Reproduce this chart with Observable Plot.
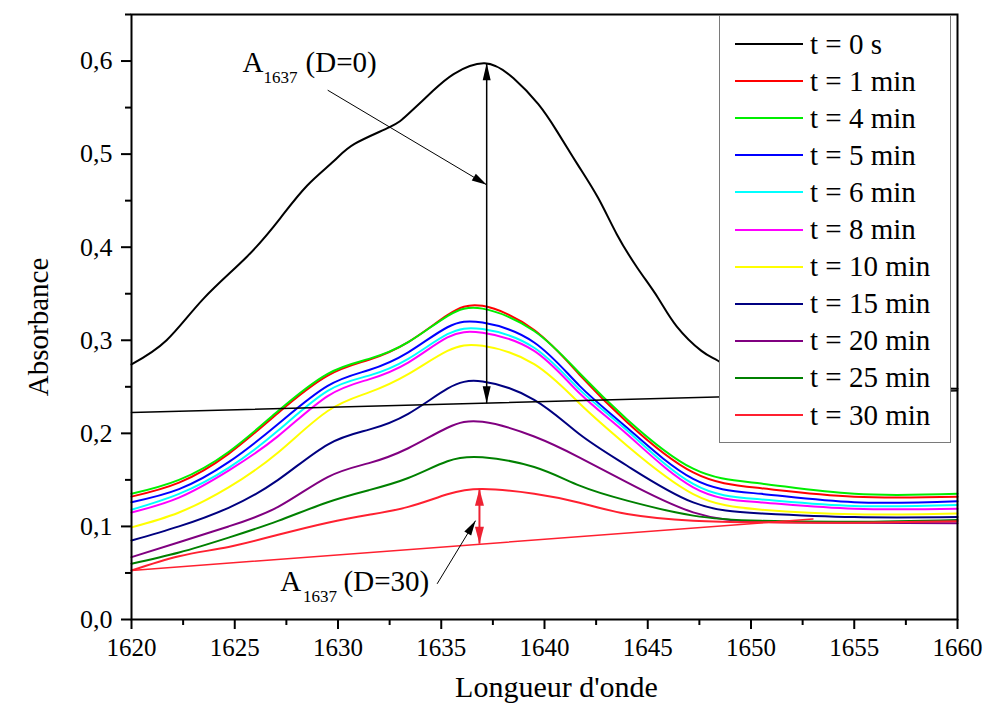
<!DOCTYPE html>
<html>
<head>
<meta charset="utf-8">
<script src="https://cdn.jsdelivr.net/npm/d3@7"></script>
<script src="https://cdn.jsdelivr.net/npm/@observablehq/plot@0.6"></script>
<style>
  html, body { margin: 0; padding: 0; background: #fff; }
  #wrap { position: relative; width: 983px; height: 711px; font-family: "Liberation Serif", "Times New Roman", serif; }
  #legend { position: absolute; left: 719px; top: 15px; width: 232px; height: 428px; box-sizing: border-box;
            border: 1.5px solid #7a7a7a; background: #fff; }
  .item { position: absolute; left: 0; height: 36px; display: flex; align-items: center; }
  .item svg { margin-left: 15px; }
  .item span { margin-left: 7px; font-size: 29px; line-height: 1; color: #000; font-family: "Liberation Serif", serif; }
</style>
</head>
<body>
<div id="wrap"><div id="chart"></div><div id="legend"></div></div>
<script>
// ---------- data ----------
const seriesLabels = ["t = 0 s", "t = 1 min", "t = 4 min", "t = 5 min", "t = 6 min", "t = 8 min",
                      "t = 10 min", "t = 15 min", "t = 20 min", "t = 25 min", "t = 30 min"];
const seriesColors = ["#000000", "#ff0000", "#00ee00", "#0000ff", "#00ffff", "#ff00ff",
                      "#ffff00", "#000080", "#800080", "#008000", "#ff2030"];

// t = 0 s curve (its own wavelength grid)
const wavelength0 = [1620, 1621.7, 1623.5, 1625.6, 1627.2, 1628.5, 1629.8, 1630.8, 1632.5, 1633.4, 1634.6, 1635.6, 1637.1,
                     1638.5, 1639.7, 1640.6, 1641.6, 1642.6, 1643.5, 1644.5, 1645.5, 1646.4, 1647.6, 1648.4, 1650, 1653, 1656, 1660];
const abs0 = [0.274, 0.300, 0.345, 0.390, 0.431, 0.466, 0.4925, 0.511, 0.529, 0.543, 0.568, 0.586, 0.5976,
              0.5815, 0.5536, 0.5247, 0.489, 0.4528, 0.414, 0.3777, 0.3455, 0.315, 0.2886, 0.278, 0.262, 0.252, 0.249, 0.248];

// other curves share one wavelength grid
const wavelength = [1620, 1622.3, 1624.7, 1627.1, 1629.5, 1631.5, 1633.4, 1635.3, 1637, 1639.5, 1641.7, 1644, 1647.2, 1650.5, 1655, 1660];
const abs1  = [0.132, 0.147, 0.178, 0.222, 0.262, 0.279, 0.298, 0.327, 0.337, 0.311, 0.263, 0.212, 0.158, 0.141, 0.132, 0.132];
const abs4  = [0.135, 0.150, 0.180, 0.224, 0.264, 0.280, 0.298, 0.326, 0.334, 0.310, 0.2646, 0.215, 0.162, 0.146, 0.135, 0.135];
const abs5  = [0.126, 0.140, 0.169, 0.210, 0.251, 0.268, 0.287, 0.314, 0.319, 0.2976, 0.251, 0.206, 0.151, 0.135, 0.126, 0.127];
const abs6  = [0.118, 0.135, 0.163, 0.203, 0.2457, 0.262, 0.280, 0.3065, 0.312, 0.292, 0.247, 0.203, 0.1456, 0.129, 0.122, 0.123];
const abs8  = [0.115, 0.131, 0.160, 0.197, 0.240, 0.258, 0.276, 0.303, 0.308, 0.2886, 0.243, 0.199, 0.142, 0.1258, 0.119, 0.119];
const abs10 = [0.099, 0.115, 0.142, 0.1795, 0.224, 0.244, 0.2636, 0.2886, 0.294, 0.2743, 0.232, 0.1867, 0.1348, 0.118, 0.113, 0.114];
const abs15 = [0.0848, 0.100, 0.120, 0.150, 0.188, 0.204, 0.221, 0.248, 0.2557, 0.236, 0.199, 0.1652, 0.1258, 0.114, 0.110, 0.110];
const abs20 = [0.067, 0.083, 0.100, 0.121, 0.153, 0.168, 0.184, 0.206, 0.2124, 0.1966, 0.174, 0.1473, 0.1151, 0.105, 0.104, 0.1034];
const abs25 = [0.060, 0.072, 0.088, 0.106, 0.126, 0.139, 0.152, 0.170, 0.1742, 0.1638, 0.1438, 0.1277, 0.1116, 0.106, 0.105, 0.107];
const abs30 = [0.0526, 0.068, 0.078, 0.091, 0.104, 0.1125, 0.121, 0.1345, 0.1402, 0.1352, 0.1255, 0.1134, 0.1062, 0.1044, 0.104, 0.1055];

// baselines (straight lines)
const baseline0 = [{x: 1620, y: 0.2225}, {x: 1660, y: 0.2457}];
const baseline30 = [{x: 1620, y: 0.0526}, {x: 1653, y: 0.108}];

// annotation arrows
const arrowD0Vert = {x: 1637.2, yLow: 0.2324, yHigh: 0.5976};
const arrowD0Pointer = {x1: 1629.5, y1: 0.5687, x2: 1637.2, y2: 0.467};
const arrowD30Vert = {x: 1636.85, yLow: 0.0815, yHigh: 0.1405};
const arrowD30Pointer = {x1: 1634.8, y1: 0.0383, x2: 1636.66, y2: 0.1062};

// annotation texts
const annoBig = [
  {x: 1625.38, y: 0.5987, text: "A"}, {x: 1628.43, y: 0.5987, text: "(D=0)"},
  {x: 1627.2, y: 0.0408, text: "A"}, {x: 1630.27, y: 0.0408, text: "(D=30)"}
];
const annoSub = [{x: 1626.39, y: 0.5826, text: "1637"}, {x: 1628.3, y: 0.0247, text: "1637"}];

// axes
const xTicks = [1620, 1625, 1630, 1635, 1640, 1645, 1650, 1655, 1660];
const xMinor = [1622.5, 1627.5, 1632.5, 1637.5, 1642.5, 1647.5, 1652.5, 1657.5];
const yTicks = [0, 0.1, 0.2, 0.3, 0.4, 0.5, 0.6];
const yMinor = [0.05, 0.15, 0.25, 0.35, 0.45, 0.55, 0.65];

// ---------- build ----------
const W = 983, H = 711, mL = 131, mR = 26, mT = 14, mB = 92;
const xDomain = [1620, 1660], yDomain = [0, 0.65];
const xs = d3.scaleLinear(xDomain, [mL, W - mR]);
const ys = d3.scaleLinear(yDomain, [H - mB, mT]);
const angleOf = (x1, y1, x2, y2) => {
  const dx = xs(x2) - xs(x1), dy = ys(y2) - ys(y1);
  return Math.atan2(dx, -dy) * 180 / Math.PI;
};
const headSymbol = (len, half) => ({
  draw(ctx) { ctx.moveTo(0, 0); ctx.lineTo(-half, len); ctx.lineTo(half, len); ctx.closePath(); }
});

const curveX = [wavelength0, wavelength, wavelength, wavelength, wavelength, wavelength, wavelength, wavelength, wavelength, wavelength, wavelength];
const curveY = [abs0, abs1, abs4, abs5, abs6, abs8, abs10, abs15, abs20, abs25, abs30];

const lineMarks = curveY.map((ys_, k) =>
  Plot.line(ys_.map((v, i) => ({x: curveX[k][i], y: v})),
    {x: "x", y: "y", stroke: seriesColors[k], strokeWidth: 2, curve: "natural"}));

const fmt = d => d.toFixed(1).replace(".", ",");
const serif = "'Liberation Serif', 'Times New Roman', serif";

const chart = Plot.plot({
  width: W, height: H,
  marginLeft: mL, marginRight: mR, marginTop: mT, marginBottom: mB,
  style: {fontFamily: serif, fontSize: "25px", background: "#fff", color: "#000"},
  x: {domain: xDomain},
  y: {domain: yDomain},
  marks: [
    Plot.axisY({ticks: yTicks, tickFormat: fmt, tickSize: 10, tickPadding: 9, strokeWidth: 2, fontSize: 26, fontFamily: serif, label: null}),
    Plot.axisY({ticks: yMinor, tickFormat: () => "", tickSize: 6, strokeWidth: 2, label: null}),
    Plot.axisX({ticks: xTicks, tickFormat: d => String(d), tickSize: 10, tickPadding: 9, strokeWidth: 2, fontSize: 25, fontFamily: serif, label: null}),
    Plot.axisX({ticks: xMinor, tickFormat: () => "", tickSize: 6, strokeWidth: 2, label: null}),
    ...lineMarks,
    Plot.line(baseline0, {x: "x", y: "y", stroke: "#000", strokeWidth: 1.5}),
    Plot.line(baseline30, {x: "x", y: "y", stroke: "#ff2030", strokeWidth: 1.5}),
    // vertical double arrow D=0
    Plot.link([arrowD0Vert], {x1: "x", x2: "x", y1: "yLow", y2: "yHigh", stroke: "#000", strokeWidth: 1.5}),
    Plot.dot([arrowD0Vert], {x: "x", y: "yHigh", symbol: headSymbol(17, 4), fill: "#000", stroke: "none", rotate: 0}),
    Plot.dot([arrowD0Vert], {x: "x", y: "yLow", symbol: headSymbol(17, 4), fill: "#000", stroke: "none", rotate: 180}),
    // pointer D=0
    Plot.link([arrowD0Pointer], {x1: "x1", y1: "y1", x2: "x2", y2: "y2", stroke: "#000", strokeWidth: 1}),
    Plot.dot([arrowD0Pointer], {x: "x2", y: "y2", symbol: headSymbol(15, 4), fill: "#000", stroke: "none",
      rotate: angleOf(arrowD0Pointer.x1, arrowD0Pointer.y1, arrowD0Pointer.x2, arrowD0Pointer.y2)}),
    // vertical double arrow D=30 (red)
    Plot.link([arrowD30Vert], {x1: "x", x2: "x", y1: "yLow", y2: "yHigh", stroke: "#ee2233", strokeWidth: 2}),
    Plot.dot([arrowD30Vert], {x: "x", y: "yHigh", symbol: headSymbol(17, 4.5), fill: "#ee2233", stroke: "none", rotate: 0}),
    Plot.dot([arrowD30Vert], {x: "x", y: "yLow", symbol: headSymbol(17, 4.5), fill: "#ee2233", stroke: "none", rotate: 180}),
    // pointer D=30
    Plot.link([arrowD30Pointer], {x1: "x1", y1: "y1", x2: "x2", y2: "y2", stroke: "#000", strokeWidth: 1}),
    Plot.dot([arrowD30Pointer], {x: "x2", y: "y2", symbol: headSymbol(15, 4), fill: "#000", stroke: "none",
      rotate: angleOf(arrowD30Pointer.x1, arrowD30Pointer.y1, arrowD30Pointer.x2, arrowD30Pointer.y2)}),
    // annotation text
    Plot.text(annoBig, {x: "x", y: "y", text: "text", textAnchor: "start", fontSize: 29, fontFamily: serif, fill: "#000"}),
    Plot.text(annoSub, {x: "x", y: "y", text: "text", textAnchor: "start", fontSize: 17, fontFamily: serif, fill: "#000"}),
    // axis titles
    Plot.text(["Absorbance"], {frameAnchor: "left", textAnchor: "middle", lineAnchor: "middle", dx: -93, dy: 10, rotate: -90, fontSize: 29, fontFamily: serif, fill: "#000"}),
    Plot.text(["Longueur d'onde"], {frameAnchor: "bottom", textAnchor: "middle", dy: 77, dx: 12, fontSize: 30, fontFamily: serif, fill: "#000"}),
    Plot.frame({stroke: "#000", strokeWidth: 2})
  ]
});
document.getElementById("chart").appendChild(chart);

// legend (HTML overlay)
const legend = document.getElementById("legend");
seriesLabels.forEach((lab, k) => {
  const row = document.createElement("div");
  row.className = "item";
  row.style.top = (10 + k * 37.1) + "px";
  row.innerHTML = `<svg width="68" height="4"><line x1="0" x2="68" y1="2" y2="2" stroke="${seriesColors[k]}" stroke-width="2.2"/></svg><span>${lab}</span>`;
  legend.appendChild(row);
});
</script>
</body>
</html>
